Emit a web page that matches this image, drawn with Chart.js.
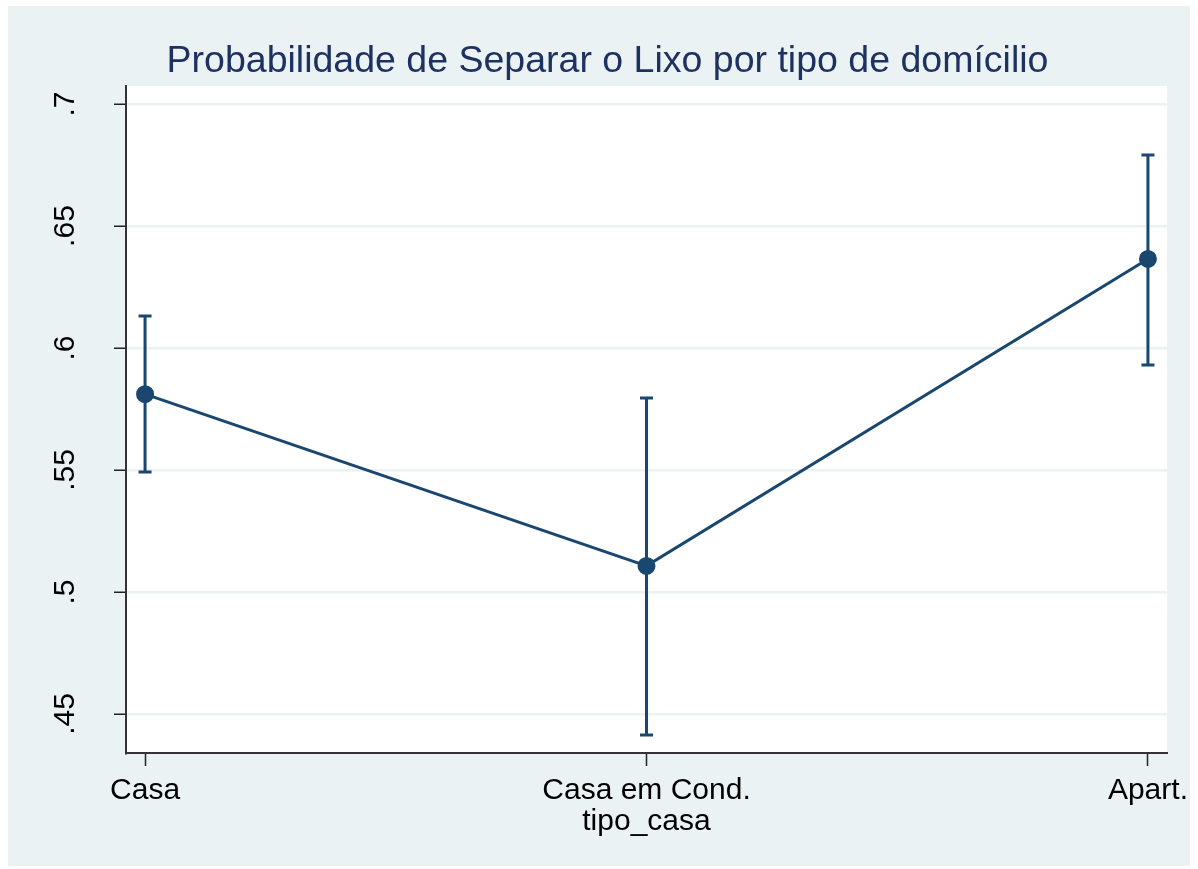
<!DOCTYPE html>
<html>
<head>
  <meta charset="utf-8" />
  <script src="https://cdn.jsdelivr.net/npm/chart.js"></script>
  <style>
    body {
      margin: 0;
      background-color: #fff;
    }

    .graph {
      position: absolute;
      left: 8px;
      top: 6px;
      width: 1182px;
      height: 860px;
      background-color: #eaf2f3;
    }
  </style>
</head>

<body>
  <div class="graph"><canvas id="marginsChart"></canvas></div>

  <script>
    // data
    const categories = ["Casa", "Casa em Cond.", "Apart."];
    const margins = [0.5811, 0.5107, 0.6365];
    const ciLower = [0.5492, 0.4414, 0.5930];
    const ciUpper = [0.6131, 0.5795, 0.6791];
    const yTicks = [0.45, 0.5, 0.55, 0.6, 0.65, 0.7];
    const yTickLabels = [".45", ".5", ".55", ".6", ".65", ".7"];
    const chartTitle = "Probabilidade de Separar o Lixo por tipo de domícilio";

    const lineColor = "#1a476f";
    const fontFamily = "'Liberation Sans', Arial, sans-serif";

    // white plot region
    const plotBackground = {
      id: "plotBackground",
      beforeDraw(chart) {
        const { ctx, chartArea } = chart;
        ctx.save();
        ctx.fillStyle = "#fff";
        ctx.fillRect(chartArea.left, chartArea.top, chartArea.right - chartArea.left, chartArea.bottom - chartArea.top);
        ctx.restore();
      }
    };

    // confidence intervals, drawn under the markers
    const errorBars = {
      id: "errorBars",
      beforeDatasetsDraw(chart) {
        const { ctx, scales } = chart;
        ctx.save();
        ctx.strokeStyle = lineColor;
        ctx.lineWidth = 3;
        categories.forEach((c, i) => {
          const x = scales.x.getPixelForValue(i);
          const yLo = scales.y.getPixelForValue(ciLower[i]);
          const yHi = scales.y.getPixelForValue(ciUpper[i]);
          ctx.beginPath();
          ctx.moveTo(x, yLo);
          ctx.lineTo(x, yHi);
          ctx.moveTo(x - 6.5, yLo);
          ctx.lineTo(x + 6.5, yLo);
          ctx.moveTo(x - 6.5, yHi);
          ctx.lineTo(x + 6.5, yHi);
          ctx.stroke();
        });
        ctx.restore();
      }
    };

    // title centred on the whole graph, and vertical y tick labels
    const texts = {
      id: "texts",
      afterDraw(chart) {
        const { ctx, scales } = chart;
        ctx.save();
        ctx.textAlign = "center";
        ctx.textBaseline = "middle";
        ctx.fillStyle = "#1e3160";
        ctx.font = "37.5px " + fontFamily;
        ctx.fillText(chartTitle, 599.5, 56);

        ctx.fillStyle = "#000";
        ctx.font = "30px " + fontFamily;
        yTicks.forEach((v, i) => {
          ctx.save();
          ctx.translate(58, scales.y.getPixelForValue(v));
          ctx.rotate(-Math.PI / 2);
          ctx.fillText(yTickLabels[i], 0, 0);
          ctx.restore();
        });
        ctx.restore();
      }
    };

    new Chart(document.getElementById("marginsChart"), {
      type: "line",
      data: {
        datasets: [{
          data: margins.map((m, i) => ({ x: i, y: m })),
          borderColor: lineColor,
          backgroundColor: lineColor,
          borderWidth: 3,
          pointRadius: 7.5,
          pointHoverRadius: 7.5,
          tension: 0
        }]
      },
      options: {
        responsive: true,
        maintainAspectRatio: false,
        animation: false,
        layout: { padding: { top: 80, right: 23, bottom: 26 } },
        plugins: {
          legend: { display: false },
          tooltip: { enabled: false }
        },
        scales: {
          x: {
            type: "linear",
            min: -0.038,
            max: 2.038,
            afterBuildTicks(scale) {
              scale.ticks = categories.map((c, i) => ({ value: i }));
            },
            afterFit(scale) {
              scale.height = 87;
              scale.paddingLeft = 0;
              scale.paddingRight = 0;
            },
            grid: {
              drawOnChartArea: false,
              tickColor: "#222",
              tickLength: 13,
              tickWidth: 1.5
            },
            border: { display: true, color: "#333", width: 2 },
            ticks: {
              color: "#000",
              padding: 7,
              font: { family: fontFamily, size: 30 },
              callback: (v) => categories[v]
            },
            title: {
              display: true,
              text: "tipo_casa",
              color: "#000",
              padding: 0,
              font: { family: fontFamily, size: 30 }
            }
          },
          y: {
            min: 0.434,
            max: 0.7074,
            afterBuildTicks(scale) {
              scale.ticks = yTicks.map(v => ({ value: v }));
            },
            afterFit(scale) {
              scale.width = 118;
            },
            grid: {
              color: "#eaf2f3",
              lineWidth: 2.5,
              tickColor: "#222",
              tickLength: 12,
              tickWidth: 1.5
            },
            border: { display: true, color: "#333", width: 2 },
            ticks: { display: false }
          }
        }
      },
      plugins: [plotBackground, errorBars, texts]
    });
  </script>
</body>
</html>
